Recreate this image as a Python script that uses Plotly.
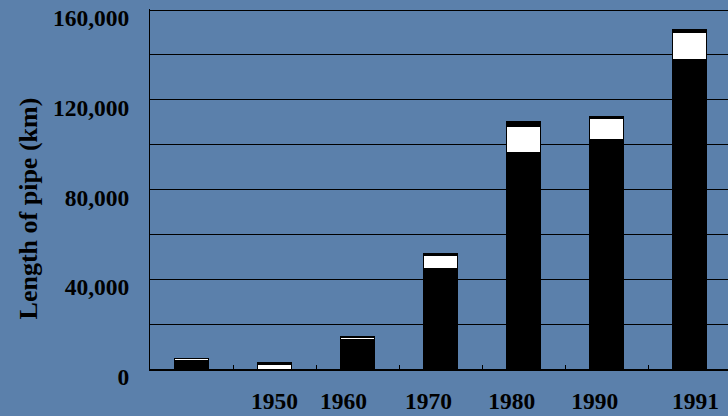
import plotly.graph_objects as go

# Length of pipe laid, by year (km), three stacked components
years = ["", "1950", "1960", "1970", "1980", "1990", "1991"]
base_km = [4000, 0, 13200, 44600, 96300, 102100, 137800]
middle_km = [500, 2200, 700, 5800, 12000, 9400, 12000]
top_km = [400, 700, 500, 1300, 1800, 900, 1300]

y_ticks = [0, 20000, 40000, 60000, 80000, 100000, 120000, 140000, 160000]
y_ticktext = ["0", "", "40,000", "", "80,000", "", "120,000", "", "160,000"]

# small horizontal nudges of the year labels relative to their bars
label_nudge = [0.0, 0.0, -0.17, -0.145, -0.145, -0.145, 0.07]

BG = "#5b80ab"
FONT = "Liberation Serif"

idx = list(range(len(years)))
bar_line = dict(color="black", width=1)

fig = go.Figure()
fig.add_bar(x=idx, y=base_km, marker=dict(color="black", line=bar_line), name="a")
fig.add_bar(x=idx, y=middle_km, marker=dict(color="white", line=bar_line), name="b")
fig.add_bar(x=idx, y=top_km, marker=dict(color="black", line=bar_line), name="c")

x_range = [-0.5, 6.46]

fig.update_layout(
    width=728,
    height=416,
    barmode="stack",
    bargap=0.59,
    showlegend=False,
    paper_bgcolor=BG,
    plot_bgcolor=BG,
    margin=dict(l=150, r=0, t=9, b=47),
    font=dict(family=FONT, color="black"),
    xaxis=dict(
        range=x_range,
        tickvals=[i + d for i, d in zip(idx, label_nudge)],
        ticktext=years,
        ticks="",
        showgrid=False,
        zeroline=False,
        showline=True,
        linecolor="black",
        linewidth=2,
        tickfont=dict(size=23.5, family=FONT, weight="bold"),
        ticklabelstandoff=10,
    ),
    xaxis2=dict(
        overlaying="x",
        anchor="y",
        side="bottom",
        range=x_range,
        tickvals=[i + 0.5 for i in idx[:-1]],
        ticks="inside",
        ticklen=4,
        tickwidth=1,
        tickcolor="black",
        showticklabels=False,
        showgrid=False,
        zeroline=False,
        showline=False,
    ),
    yaxis=dict(
        range=[0, 160450],
        tickvals=y_ticks,
        ticktext=y_ticktext,
        showgrid=True,
        gridcolor="black",
        gridwidth=1,
        zeroline=False,
        showline=True,
        linecolor="black",
        linewidth=1,
        ticks="",
        tickfont=dict(size=23.5, family=FONT, weight="bold"),
        ticklabelstandoff=15,
        ticklabelshift=8,
    ),
)

fig.add_scatter(x=[], y=[], xaxis="x2", yaxis="y", showlegend=False)

fig.add_annotation(
    text="Length of pipe (km)",
    xref="paper",
    yref="paper",
    x=-0.21,
    y=0.445,
    xanchor="center",
    yanchor="middle",
    textangle=-90,
    showarrow=False,
    font=dict(size=26, family=FONT, weight="bold", color="black"),
)

fig.write_html("out.html")
